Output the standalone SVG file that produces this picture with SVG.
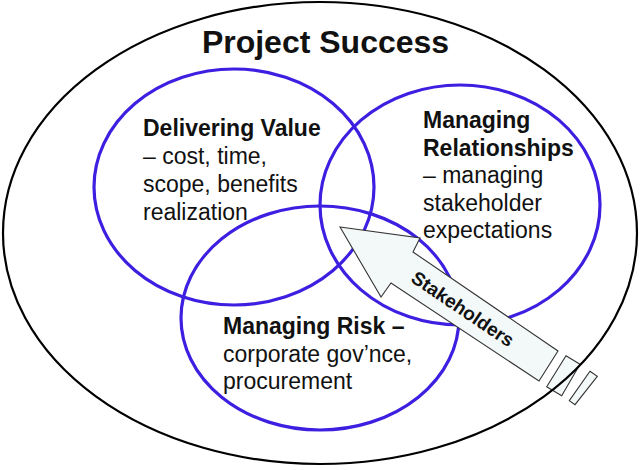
<svg xmlns="http://www.w3.org/2000/svg" width="640" height="470" viewBox="0 0 640 470">
<style>
.ring{fill:none;stroke:#3c1fe0;stroke-width:3.2}
.outer{fill:none;stroke:#000;stroke-width:2.2}
.t{font-family:"Liberation Sans",Arial,sans-serif;font-size:23px;fill:#111}
.b{font-weight:bold}
.title{font-family:"Liberation Sans",Arial,sans-serif;font-size:32px;font-weight:bold;fill:#111}
.arr{fill:#f3f8f8;stroke:#333;stroke-width:1.1;stroke-linejoin:miter}
.at{font-family:"Liberation Sans",Arial,sans-serif;font-size:19px;font-weight:bold;fill:#111}
</style>
<rect width="640" height="470" fill="#fff"/>
<g id="value">
<ellipse class="ring" cx="234" cy="187" rx="140" ry="118"/>
<text class="t"><tspan class="b" x="143" y="136">Delivering Value</tspan><tspan x="143" y="164">– cost, time,</tspan><tspan x="143" y="192">scope, benefits</tspan><tspan x="143" y="219.5">realization</tspan></text>
</g>
<g id="relationships">
<ellipse class="ring" cx="460" cy="205" rx="140" ry="120"/>
<text class="t"><tspan class="b" x="423" y="128">Managing</tspan><tspan class="b" x="423" y="155.5">Relationships</tspan><tspan x="423" y="183">– managing</tspan><tspan x="423" y="210.5">stakeholder</tspan><tspan x="423" y="238">expectations</tspan></text>
</g>
<g id="risk">
<ellipse class="ring" cx="320" cy="318" rx="139" ry="112"/>
<text class="t"><tspan class="b" x="223" y="334">Managing Risk –</tspan><tspan x="223" y="361.5">corporate gov’nce,</tspan><tspan x="223" y="389">procurement</tspan></text>
</g>
<g id="stakeholders">
<polygon class="arr" points="340,227 420,238 413,252 558,351 539,381 391,283 381,297"/>
<polygon class="arr" points="566,355.7 580,364.3 561.7,395.7 546.7,386.7"/>
<polygon class="arr" points="590,371.3 597.3,376.3 575,404.7 569.3,400.7"/>
<text class="at" text-anchor="middle" transform="translate(463,308.5) rotate(34)" x="0" y="7">Stakeholders</text>
</g>
<g id="success">
<ellipse class="outer" cx="320" cy="233" rx="317" ry="231"/>
<text class="title" x="325.5" y="53" text-anchor="middle">Project Success</text>
</g>
</svg>
